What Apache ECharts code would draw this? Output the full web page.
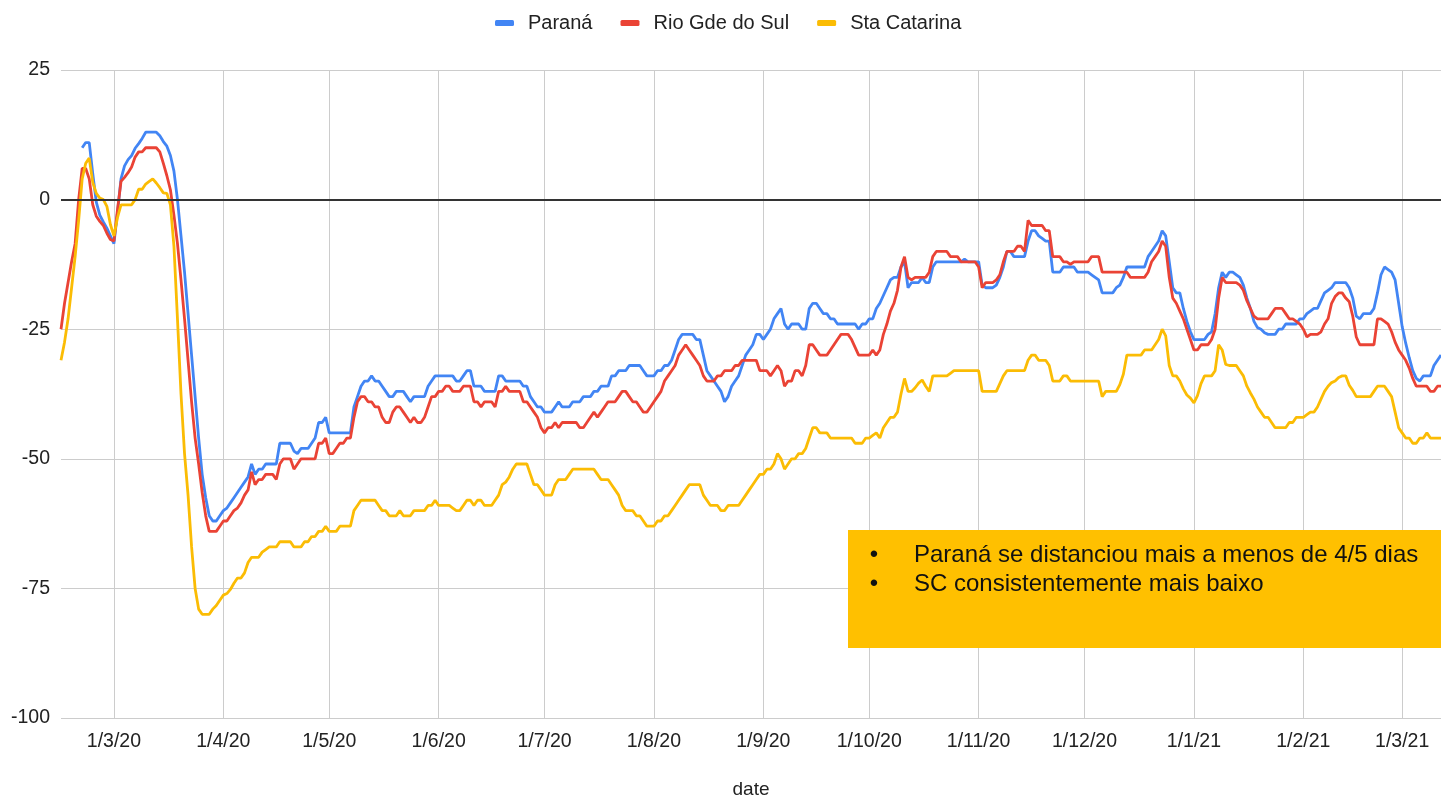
<!DOCTYPE html>
<html>
<head>
<meta charset="utf-8">
<title>Paraná / Rio Gde do Sul / Sta Catarina</title>
<script src="https://cdn.jsdelivr.net/npm/echarts@6.0.0/dist/echarts.min.js"></script>
<style>
  html, body { margin: 0; padding: 0; background: #fff; }
  #chart { width: 1441px; height: 796px; }
</style>
</head>
<body>
<div id="chart"></div>
<script>
// daily values, one per day from 15/2/2020
const startDate = Date.UTC(2020, 1, 15)
const dayCount = 392

const tickLabels = ['1/3/20', '1/4/20', '1/5/20', '1/6/20', '1/7/20', '1/8/20', '1/9/20',
  '1/10/20', '1/11/20', '1/12/20', '1/1/21', '1/2/21', '1/3/21']
const yTicks = [-100, -75, -50, -25, 0, 25]

const parana = [
  null, null, null, null, null, null, 10, 11, 11, 5,
  -0.5, -3, -4.3, -5.5, -7, -8.5, -2.5, 4, 6.5, 7.7,
  8.5, 9.9, 10.8, 11.8, 13, 13, 13, 13, 12.3, 11.2,
  10.3, 8.5, 5.5, 0, -7, -14, -22, -30, -38, -46,
  -53, -57.5, -61, -62, -62, -61, -60, -59.5, -58.5, -57.5,
  -56.5, -55.5, -54.5, -53.5, -51, -53, -52, -52, -51, -51,
  -51, -51, -47, -47, -47, -47, -48.5, -49, -48, -48,
  -48, -47, -46, -43, -43, -42, -45, -45, -45, -45,
  -45, -45, -45, -40, -38, -36, -35, -35, -34, -35,
  -35, -36, -37, -38, -38, -37, -37, -37, -38, -39,
  -38, -38, -38, -38, -36, -35, -34, -34, -34, -34,
  -34, -34, -35, -35, -34, -33, -33, -36, -36, -36,
  -37, -37, -37, -37, -34, -34, -35, -35, -35, -35,
  -35, -36, -36, -38, -39, -40, -40, -41, -41, -41,
  -40, -39, -40, -40, -40, -39, -39, -39, -38, -38,
  -38, -37, -37, -36, -36, -36, -34, -34, -33, -33,
  -33, -32, -32, -32, -32, -33, -34, -34, -34, -33,
  -33, -32, -32, -31, -29, -27, -26, -26, -26, -26,
  -27, -27, -30, -33, -34, -35, -36, -37, -39, -38,
  -36, -35, -34, -32, -30, -29, -28, -26, -26, -27,
  -26, -25, -23, -22, -21, -24, -25, -24, -24, -24,
  -25, -25, -21, -20, -20, -21, -22, -22, -23, -23,
  -24, -24, -24, -24, -24, -24, -25, -24, -24, -23,
  -23, -21, -20, -18.5, -17, -15.5, -15, -15, -13, -12,
  -17, -16, -16, -16, -15, -16, -16, -13, -12, -12,
  -12, -12, -12, -12, -12, -12, -11.5, -12, -12, -12,
  -12, -16.5, -17, -17, -17, -16.5, -15, -13, -10, -10,
  -11, -11, -11, -11, -8, -6, -6, -7, -7.5, -8,
  -8, -14, -14, -14, -13, -13, -13, -13, -14, -14,
  -14, -14, -14.5, -15, -15.5, -18, -18, -18, -18, -17,
  -16.5, -15, -13, -13, -13, -13, -13, -13, -11, -10,
  -9, -8, -6, -7, -12, -17, -18, -18, -21, -23.5,
  -25.5, -27, -27, -27, -27, -26, -25.5, -22, -17, -14,
  -15, -14, -14, -14.5, -15, -16.5, -19, -21, -23.5, -24.7,
  -25, -25.7, -26, -26, -26, -25, -25, -24, -24, -24,
  -24, -23, -23, -22, -21.5, -21, -21, -19.5, -18, -17.5,
  -17, -16, -16, -16, -16, -17, -19, -22.5, -23, -22,
  -22, -22, -21, -18, -14.5, -13, -13.5, -14, -15.5, -20,
  -24.5, -27.7, -30.5, -33, -34.5, -35, -34, -34, -34, -32,
  -31, -30
]

const rioGrande = [
  -25, -20, -16, -12, -8.5, 0, 6, 6, 4, -1,
  -3.2, -4.2, -5, -6.5, -7.7, -8, -2, 3.5, 4.3, 5.2,
  6.3, 8.2, 9.2, 9.2, 10, 10, 10, 10, 9.2, 7,
  4.6, 1.9, -3, -8.5, -15.5, -23, -31, -39, -46, -51,
  -56.5, -61, -64, -64, -64, -63, -62, -62, -61, -60,
  -59.5, -58.5, -57, -56, -52.5, -55, -54, -54, -53, -53,
  -53, -54, -51, -50, -50, -50, -52, -51, -50, -50,
  -50, -50, -50, -47, -47, -46, -49, -49, -48, -47,
  -47, -46, -46, -42, -39, -38, -38, -39, -39, -40,
  -40, -42, -43, -43, -41, -40, -40, -41, -42, -43,
  -42, -43, -43, -42, -40, -38, -38, -37, -37, -36,
  -36, -37, -37, -37, -36, -36, -36, -39, -39, -40,
  -39, -39, -39, -40, -37, -37, -36, -37, -37, -37,
  -37, -39, -39, -40, -41, -42, -44, -45, -44, -44,
  -43, -44, -43, -43, -43, -43, -43, -44, -44, -43,
  -42, -41, -42, -41, -40, -39, -39, -39, -38, -37,
  -37, -38, -39, -39, -40, -41, -41, -40, -39, -38,
  -37, -35, -34, -33, -32, -30, -29, -28, -29, -30,
  -31, -32, -34, -35, -35, -35, -34, -34, -33, -33,
  -33, -32, -32, -31, -31, -31, -31, -31, -33, -33,
  -33, -34, -33, -32, -33, -36, -35, -35, -33, -33,
  -34, -32, -28, -28, -29, -30, -30, -30, -29, -28,
  -27, -26, -26, -26, -27, -28.5, -30, -30, -30, -30,
  -29, -30, -29, -26, -24, -21.5, -20, -17.5, -13, -11,
  -15, -15.5, -15, -15, -15, -15, -14, -11, -10, -10,
  -10, -10, -11, -11, -11, -12, -12, -12, -12, -12,
  -13, -17, -16, -16, -16, -15.5, -14.5, -12, -10, -10,
  -10, -9, -9, -10, -4, -5, -5, -5, -5, -6,
  -6, -11, -11, -11, -12, -12, -12.5, -12, -12, -12,
  -12, -12, -11, -11, -11, -14, -14, -14, -14, -14,
  -14, -14, -14, -15, -15, -15, -15, -15, -14, -12,
  -11, -10, -8, -9, -15, -19, -20, -21.5, -23, -25,
  -27, -29, -29, -28, -28, -28, -27, -25, -19, -15,
  -16, -16, -16, -16, -16.5, -17.5, -19.5, -21, -22.5, -23,
  -23, -23, -23, -22, -21, -21, -21, -22, -23, -23,
  -23.5, -24, -25, -26.5, -26, -26, -26, -25.5, -24, -23,
  -20, -18.7, -18, -18, -19, -19.7, -22.5, -26.5, -28, -28,
  -28, -28, -28, -23, -23, -23.5, -24, -25.5, -27.5, -29,
  -30, -31, -32.5, -34.5, -36, -36, -36, -36, -37, -37,
  -36, -36
]

const staCatarina = [
  -31, -27.5, -23, -17, -11, -4, 4, 7, 8, 3.3,
  1.2, 0.3, 0, -1.3, -4.8, -7, -3.5, -1, -1, -1,
  -1, 0, 2, 2, 3, 3.5, 4, 3.2, 2.3, 1.3,
  1.2, -1, -9, -23, -37.5, -49, -57, -67, -75, -79,
  -80, -80, -80, -79, -78.3, -77.3, -76.3, -76, -75.2, -74,
  -73, -73, -72, -70, -69, -69, -69, -68, -67.5, -67,
  -67, -67, -66, -66, -66, -66, -67, -67, -67, -66,
  -66, -65, -65, -64, -64, -63, -64, -64, -64, -63,
  -63, -63, -63, -60, -59, -58, -58, -58, -58, -58,
  -59, -60, -60, -61, -61, -61, -60, -61, -61, -61,
  -60, -60, -60, -60, -59, -59, -58, -59, -59, -59,
  -59, -59.5, -60, -60, -59, -58, -58, -59, -58, -58,
  -59, -59, -59, -58, -57, -55, -54.5, -53.5, -52, -51,
  -51, -51, -51, -53, -55, -55, -56, -57, -57, -57,
  -55, -54, -54, -54, -53, -52, -52, -52, -52, -52,
  -52, -52, -53, -54, -54, -54, -55, -56, -57, -59,
  -60, -60, -60, -61, -61, -62, -63, -63, -63, -62,
  -62, -61, -61, -60, -59, -58, -57, -56, -55, -55,
  -55, -55, -57, -58, -59, -59, -59, -60, -60, -59,
  -59, -59, -59, -58, -57, -56, -55, -54, -53, -53,
  -52, -52, -51, -49, -50, -52, -51, -50, -50, -49,
  -49, -48, -46, -44, -44, -45, -45, -45, -46, -46,
  -46, -46, -46, -46, -46, -47, -47, -47, -46, -46,
  -45.5, -45, -46, -44, -43, -42, -42, -41, -37.5, -34.5,
  -37, -37, -36.3, -35.4, -34.8, -36, -37, -34, -34, -34,
  -34, -34, -33.5, -33, -33, -33, -33, -33, -33, -33,
  -33, -37, -37, -37, -37, -37, -35.5, -34, -33, -33,
  -33, -33, -33, -33, -31, -30, -30, -31, -31, -31,
  -32, -35, -35, -35, -34, -34, -35, -35, -35, -35,
  -35, -35, -35, -35, -35, -38, -37, -37, -37, -37,
  -35.7, -33.7, -30, -30, -30, -30, -30, -29, -29, -29,
  -28, -27, -25, -26.3, -32, -34, -34, -35, -36.5, -37.7,
  -38.3, -39.2, -37.8, -35.5, -34, -34, -34, -33, -28, -29,
  -31.8, -32, -32, -32, -33, -34, -36, -37.3, -38.5, -40,
  -41, -42, -42, -43, -44, -44, -44, -44, -43, -43,
  -42, -42, -42, -41.5, -41, -41, -40, -38.5, -37, -36,
  -35.3, -35, -34.3, -34, -34, -35.8, -36.8, -38, -38, -38,
  -38, -38, -37, -36, -36, -36, -37, -38, -41, -44,
  -45, -46, -46, -47, -47, -46, -46, -45, -46, -46,
  -46, -46
]

const dates = []
for (let i = 0; i < dayCount; i++) {
  dates.push(new Date(startDate + i * 86400000).toISOString().slice(0, 10))
}

// 2020-03-01 -> 1/3/20
function shortDate(v) {
  const p = v.split('-')
  return +p[2] + '/' + +p[1] + '/' + p[0].slice(2)
}
const isTick = (i, v) => tickLabels.indexOf(shortDate(v)) >= 0

const fontFamily = 'Liberation Sans, Arial, sans-serif'

const chart = echarts.init(document.getElementById('chart'))

const option = {
  animation: false,
  backgroundColor: '#fff',
  textStyle: { fontFamily },
  legend: {
    left: 490,
    top: 8,
    icon: 'roundRect',
    itemWidth: 19,
    itemHeight: 6,
    itemGap: 28,
    textStyle: { fontSize: 20, color: '#222', fontFamily, padding: [0, 0, 0, 9] },
    data: ['Paraná', 'Rio Gde do Sul', 'Sta Catarina']
  },
  grid: { left: 61, right: 0, top: 70, bottom: 78, outerBoundsMode: 'none', containLabel: false },
  xAxis: {
    type: 'category',
    data: dates,
    boundaryGap: false,
    name: 'date',
    nameLocation: 'middle',
    nameGap: 62,
    nameTextStyle: { fontSize: 19, color: '#222' },
    axisLine: { show: false, onZero: false },
    axisTick: { show: false, interval: isTick },
    axisLabel: {
      interval: isTick,
      formatter: shortDate,
      fontSize: 19.5,
      color: '#222',
      margin: 14
    },
    splitLine: { show: true, interval: isTick, lineStyle: { color: '#cccccc', width: 1 } }
  },
  yAxis: {
    type: 'value',
    min: yTicks[0],
    max: yTicks[yTicks.length - 1],
    interval: 25,
    axisLine: { show: false },
    axisTick: { show: false },
    axisLabel: { fontSize: 19.5, color: '#222', margin: 11 },
    splitLine: { lineStyle: { color: '#cccccc', width: 1 } }
  },
  series: [
    {
      name: 'Paraná',
      type: 'line',
      data: parana,
      showSymbol: false,
      lineStyle: { width: 2.8, color: '#4285F4' },
      itemStyle: { color: '#4285F4' },
      markLine: {
        silent: true,
        symbol: 'none',
        label: { show: false },
        lineStyle: { color: '#333333', width: 2, type: 'solid' },
        data: [{ yAxis: 0 }]
      }
    },
    {
      name: 'Rio Gde do Sul',
      type: 'line',
      data: rioGrande,
      showSymbol: false,
      lineStyle: { width: 2.8, color: '#EA4335' },
      itemStyle: { color: '#EA4335' }
    },
    {
      name: 'Sta Catarina',
      type: 'line',
      data: staCatarina,
      showSymbol: false,
      lineStyle: { width: 2.8, color: '#FBBC04' },
      itemStyle: { color: '#FBBC04' }
    }
  ],
  // caixa de comentário
  graphic: [
    {
      type: 'rect',
      z: 100,
      shape: { x: 848, y: 530, width: 593, height: 118 },
      style: { fill: '#FFC000' }
    },
    {
      type: 'text',
      z: 101,
      style: {
        x: 874, y: 555, text: '•', align: 'center', verticalAlign: 'middle',
        font: '24px Liberation Sans', fill: '#111'
      }
    },
    {
      type: 'text',
      z: 101,
      style: {
        x: 914, y: 555, text: 'Paraná se distanciou mais a menos de 4/5 dias',
        align: 'left', verticalAlign: 'middle', font: '24px Liberation Sans', fill: '#111'
      }
    },
    {
      type: 'text',
      z: 101,
      style: {
        x: 874, y: 584, text: '•', align: 'center', verticalAlign: 'middle',
        font: '24px Liberation Sans', fill: '#111'
      }
    },
    {
      type: 'text',
      z: 101,
      style: {
        x: 914, y: 584, text: 'SC consistentemente mais baixo',
        align: 'left', verticalAlign: 'middle', font: '24px Liberation Sans', fill: '#111'
      }
    }
  ]
}

chart.setOption(option)

window.addEventListener('resize', () => {
  chart.resize()
})
</script>
</body>
</html>
